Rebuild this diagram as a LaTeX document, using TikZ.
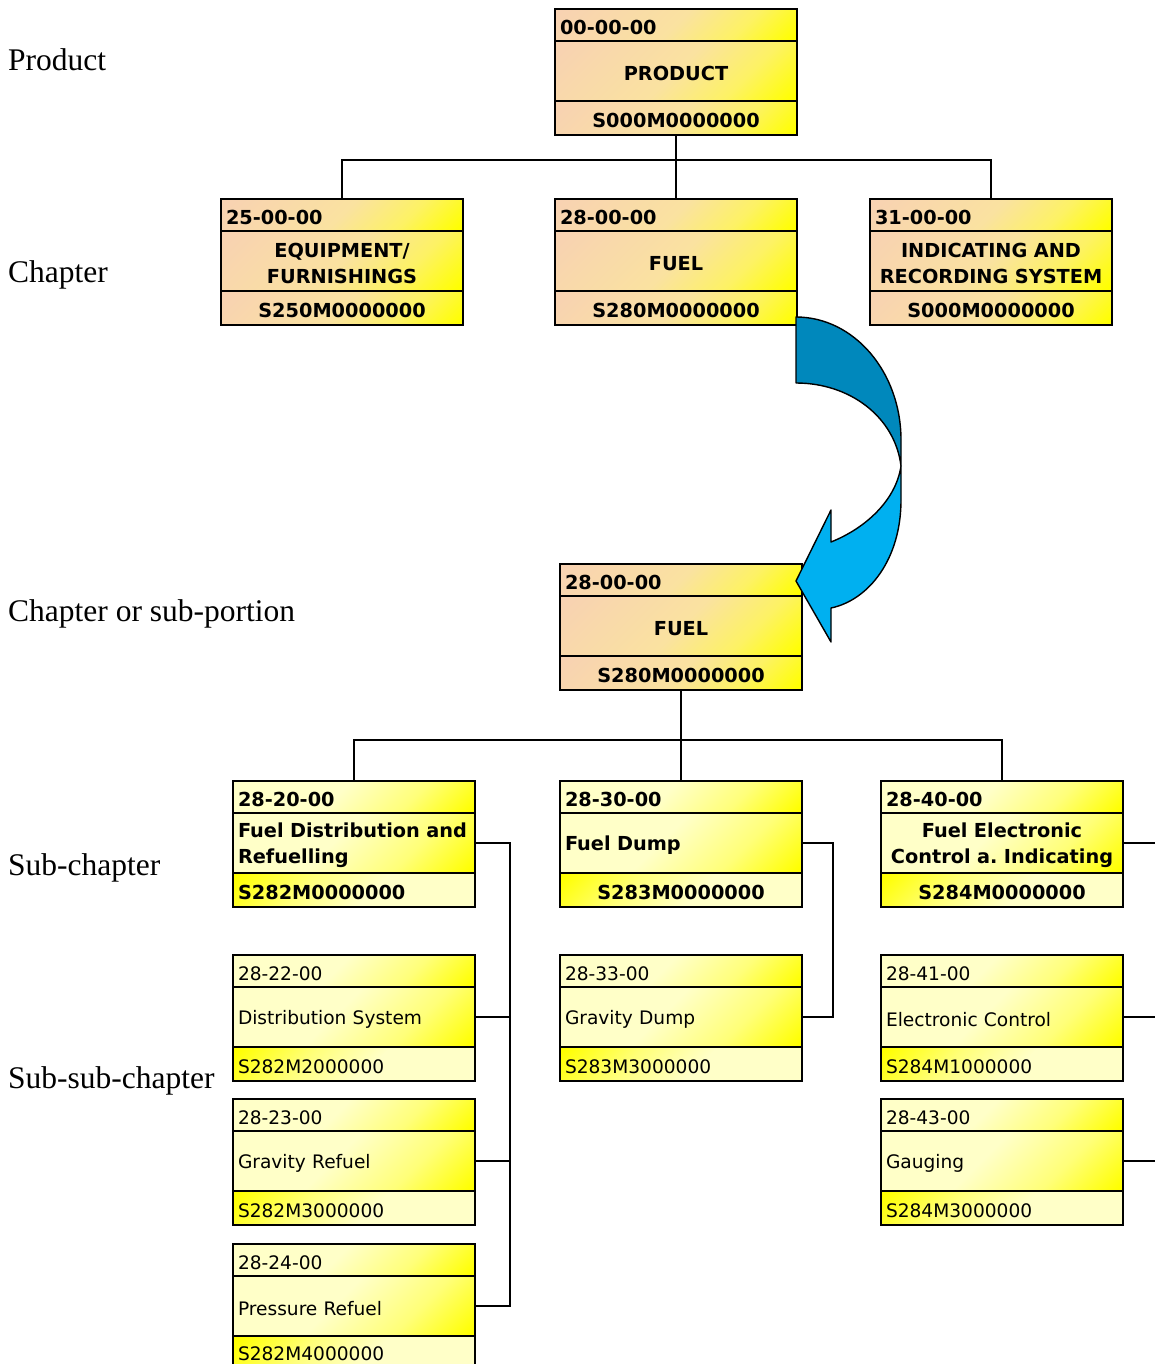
\documentclass[tikz,border=0pt]{standalone}
\usepackage{fontspec}
\setmainfont{Liberation Serif}
\newfontfamily\boxfont{DejaVu Sans}
\frenchspacing

\definecolor{peach}{RGB}{248,210,178}
\definecolor{warmmid}{RGB}{250,226,160}
\definecolor{warmhi}{RGB}{253,242,100}
\definecolor{yelw}{RGB}{255,255,0}
\definecolor{paleyel}{RGB}{255,255,200}
\definecolor{coolmid}{RGB}{255,255,120}
\definecolor{arrdark}{RGB}{0,136,188}
\definecolor{arrlight}{RGB}{0,176,240}

% diagonal fills: light corner at the top left, strong yellow at the bottom right
\pgfdeclareverticalshading{warmdiag}{100bp}{color(0bp)=(yelw); color(16bp)=(yelw);
  color(32bp)=(warmhi); color(50bp)=(warmmid); color(84bp)=(peach); color(100bp)=(peach)}
\pgfdeclareverticalshading{cooldiag}{100bp}{color(0bp)=(yelw); color(16bp)=(yelw);
  color(34bp)=(coolmid); color(55bp)=(paleyel); color(100bp)=(paleyel)}
\pgfdeclareverticalshading{cooldiagrev}{100bp}{color(0bp)=(paleyel); color(45bp)=(paleyel);
  color(64bp)=(coolmid); color(84bp)=(yelw); color(100bp)=(yelw)}

\newcommand\bxb{\boxfont\bfseries\fontsize{19.3}{26}\selectfont}
\newcommand\bxr{\boxfont\fontsize{18.6}{24}\selectfont}
\newcommand\lvlfont{\fontsize{31.5}{36}\selectfont}
% height of the strut that opens each row's text
\newcommand\rowlift{19pt}

\tikzset{
  row/.style={draw, line width=1.4pt, inner xsep=5pt, inner ysep=0pt,
    outer sep=0pt, text width=232pt, anchor=north west,
    execute at begin node={\rule{0pt}{\rowlift}}},
  lowrow/.style={/utils/exec={\def\rowlift{15pt}}},
  ttl/.style={row, minimum height=32pt},
  mid/.style={row, minimum height=60pt},
  cod/.style={row, minimum height=34pt},
  warm/.style={shade, shading=warmdiag, shading angle=45},
  cool/.style={shade, shading=cooldiag, shading angle=45},
  coolrev/.style={shade, shading=cooldiagrev, shading angle=45},
  wl/.style={warm, font=\bxb, align=left},
  wc/.style={warm, font=\bxb, align=center},
  cl/.style={cool, font=\bxb, align=left},
  cc/.style={cool, font=\bxb, align=center},
  rl/.style={coolrev, font=\bxb, align=left},
  rc/.style={coolrev, font=\bxb, align=center},
  nl/.style={cool, font=\bxr, align=left},
  nr/.style={coolrev, font=\bxr, align=left},
  link/.style={draw=black, line width=1.4pt},
  lvl/.style={anchor=base west, inner sep=0pt, font=\lvlfont},
  arrowpart/.style={draw=black, line width=1.4pt, line join=round},
}

% three stacked rows: code number, name, data module code
\newcommand\tribox[9]{%
  \node[ttl,#4] (#1-t) at (#2,#3) {#7};
  \node[mid,#5] (#1-m) at (#1-t.south west) {#8};
  \node[cod,#6] (#1-b) at (#1-m.south west) {#9};
}

\begin{document}
\begin{tikzpicture}[x=1pt,y=-1pt]
\useasboundingbox (0,0) rectangle (1155,1364);

% level captions
\node[lvl] (lv1) at (8,71) {Product};
\node[lvl] (lv2) at (8,282) {Chapter};
\node[lvl] (lv3) at (8,621) {Chapter or sub-portion};
\node[lvl] (lv4) at (8,875) {Sub-chapter};
\node[lvl] (lv5) at (8,1088) {Sub-sub-chapter};

% product and chapters
\tribox{prod}{555}{9}{wl}{wc}{wc}{00-00-00}{PRODUCT}{S000M0000000}
\tribox{ch1}{221}{199}{wl}{wc}{wc}{25-00-00}{EQUIPMENT/\\FURNISHINGS}{S250M0000000}
\tribox{ch2}{555}{199}{wl}{wc}{wc}{28-00-00}{FUEL}{S280M0000000}
\tribox{ch3}{870}{199}{wl}{wc}{wc}{31-00-00}{INDICATING AND\\RECORDING SYSTEM}{S000M0000000}

% chapter in detail
\tribox{fuel}{560}{564}{wl}{wc}{wc}{28-00-00}{FUEL}{S280M0000000}

% sub-chapters
\tribox{s20}{233}{781}{cl}{cl}{rl}{28-20-00}{Fuel Distribution and\\Refuelling}{S282M0000000}
\tribox{s30}{560}{781}{cl}{cl}{rc}{28-30-00}{Fuel Dump}{S283M0000000}
\tribox{s40}{881}{781}{cl}{cc}{rc}{28-40-00}{Fuel Electronic\\Control a. Indicating}{S284M0000000}

% sub-sub-chapters
\tribox{s22}{233}{955}{nl}{nl}{nr}{28-22-00}{Distribution System}{S282M2000000}
\tribox{s23}{233}{1099}{nl}{nl}{nr}{28-23-00}{Gravity Refuel}{S282M3000000}
\tribox{s24}{233}{1244}{nl}{nl}{nr,lowrow}{28-24-00}{Pressure Refuel}{S282M4000000}
\tribox{s33}{560}{955}{nl}{nl}{nr}{28-33-00}{Gravity Dump}{S283M3000000}
\tribox{s41}{881}{955}{nl}{nl}{nr}{28-41-00}{Electronic Control}{S284M1000000}
\tribox{s43}{881}{1099}{nl}{nl}{nr}{28-43-00}{Gauging}{S284M3000000}

% tree connectors
\coordinate (j1) at (676,160);
\coordinate (j2) at (681,740);
\draw[link] (prod-b.south) -- (ch2-t.north);
\draw[link] (ch1-t.north) |- (j1) -| (ch3-t.north);
\draw[link] (fuel-b.south) -- (s30-t.north);
\draw[link] (s20-t.north) |- (j2) -| (s40-t.north);

% side buses
\coordinate (busA) at (510,0);
\coordinate (busB) at (833,0);
\coordinate (busC) at (1160,0);
\draw[link] (s20-m.east) -| (busA |- s24-m.east) -- (s24-m.east);
\draw[link] (s22-m.east) -- (busA |- s22-m.east);
\draw[link] (s23-m.east) -- (busA |- s23-m.east);
\draw[link] (s30-m.east) -| (busB |- s33-m.east) -- (s33-m.east);
\draw[link] (s40-m.east) -- (busC |- s40-m.east);
\draw[link] (s41-m.east) -- (busC |- s41-m.east);
\draw[link] (s43-m.east) -- (busC |- s43-m.east);

% curved arrow from the chapter down to its detail
\draw[arrowpart, fill=arrdark]
  (796,317) .. controls (854,317) and (901,372) .. (901,440)
  -- (901,466) .. controls (895,417) and (850,383) .. (796,383) -- cycle;
\draw[arrowpart, fill=arrlight]
  (831,542) .. controls (866,528) and (896,500) .. (901,466)
  -- (901,500) .. controls (901,559) and (869,600) .. (831,608)
  -- (831,642) -- (796,581) -- (831,510) -- cycle;
\end{tikzpicture}
\end{document}
